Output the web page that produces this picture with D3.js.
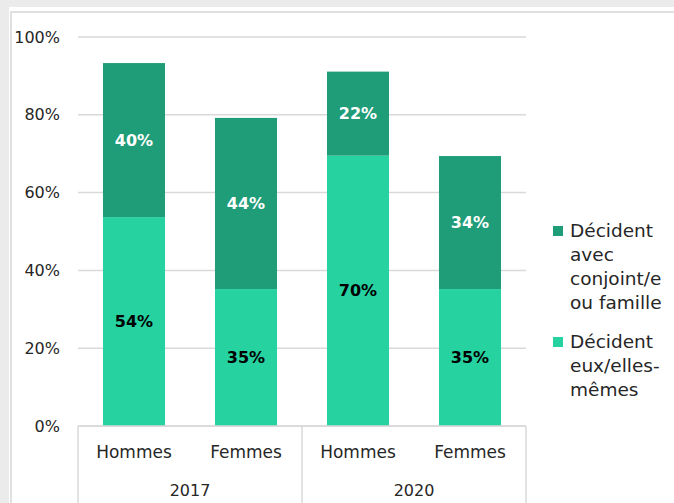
<!DOCTYPE html>
<html>
<head>
<meta charset="utf-8">
<script src="https://cdn.jsdelivr.net/npm/d3@7"></script>
<style>
  html, body { margin: 0; padding: 0; background: #ebebeb; }
  svg { display: block; }
</style>
</head>
<body>
<div class="main"></div>
<script>
// Chart data
const years = ["2017", "2020"]
const sexes = ["Hommes", "Femmes"]
const categories = ["2017|Hommes", "2017|Femmes", "2020|Hommes", "2020|Femmes"]
const seuls = [53.7, 35.2, 69.5, 35.2]      // Décident eux/elles-mêmes
const avecFamille = [39.6, 44.0, 21.6, 34.2] // Décident avec conjoint/e ou famille
const yTicks = [0, 20, 40, 60, 80, 100]
const legendLabels = [
    ["Décident", "avec", "conjoint/e", "ou famille"],
    ["Décident", "eux/elles-", "mêmes"]
]

const width = 674
const height = 503
const margin = ({top: 37, right: 148, bottom: 77, left: 78})
const axisFont = "'Century Gothic', 'URW Gothic', 'DejaVu Sans', sans-serif"
const legendFont = "Verdana, 'DejaVu Sans', sans-serif"
const darkGreen = "#1f9c78"
const lightGreen = "#25d2a0"
const gridColor = "#d9d9d9"

const svg = d3.select(".main").append("svg")
    .attr("width", width)
    .attr("height", height)

// panel
svg.append("rect")
    .attr("x", 9).attr("y", 7)
    .attr("width", width - 9).attr("height", height - 7)
    .attr("fill", "white")
svg.append("path")
    .attr("d", `M11,${height} V12 H${width}`)
    .attr("fill", "none")
    .attr("stroke", "#e0e0e0")
    .attr("stroke-width", 2)

const xScale = d3.scaleBand()
    .domain(categories)
    .range([margin.left, width - margin.right])
    .paddingInner(0.446)
    .paddingOuter(0.223)

const yScale = d3.scaleLinear()
    .domain([0, 100])
    .range([height - margin.bottom, margin.top])

// gridlines
svg.append("g")
    .selectAll("line")
    .data(yTicks)
    .join("line")
        .attr("x1", margin.left)
        .attr("x2", width - margin.right)
        .attr("y1", d => yScale(d))
        .attr("y2", d => yScale(d))
        .attr("stroke", gridColor)
        .attr("stroke-width", 1.5)

// y axis labels
svg.append("g")
    .selectAll("text")
    .data(yTicks)
    .join("text")
        .attr("x", 60)
        .attr("y", d => yScale(d))
        .attr("dy", "0.35em")
        .attr("text-anchor", "end")
        .attr("font-family", axisFont)
        .attr("font-size", 16)
        .attr("fill", "#262626")
        .text(d => d + "%")

// stacked bars
const stacked = categories.map((c, i) => ({cat: c, seul: seuls[i], fam: avecFamille[i]}))

const bars = svg.append("g")
    .selectAll("g")
    .data(stacked)
    .join("g")

bars.append("rect")
    .attr("x", d => xScale(d.cat))
    .attr("width", xScale.bandwidth())
    .attr("y", d => yScale(d.seul))
    .attr("height", d => yScale(0) - yScale(d.seul))
    .attr("fill", lightGreen)

bars.append("rect")
    .attr("x", d => xScale(d.cat))
    .attr("width", xScale.bandwidth())
    .attr("y", d => yScale(d.seul + d.fam))
    .attr("height", d => yScale(d.seul) - yScale(d.seul + d.fam))
    .attr("fill", darkGreen)

bars.append("text")
    .attr("x", d => xScale(d.cat) + xScale.bandwidth() / 2)
    .attr("y", d => yScale(d.seul / 2))
    .attr("dy", "0.35em")
    .attr("text-anchor", "middle")
    .attr("font-family", axisFont)
    .attr("font-weight", "bold")
    .attr("font-size", 16)
    .attr("fill", "black")
    .text(d => Math.round(d.seul) + "%")

bars.append("text")
    .attr("x", d => xScale(d.cat) + xScale.bandwidth() / 2)
    .attr("y", d => yScale(d.seul + d.fam / 2))
    .attr("dy", "0.35em")
    .attr("text-anchor", "middle")
    .attr("font-family", axisFont)
    .attr("font-weight", "bold")
    .attr("font-size", 16)
    .attr("fill", "white")
    .text(d => Math.round(d.fam) + "%")

// x axis: two levels
const x0 = margin.left
const x1 = width - margin.right
const base = yScale(0)
const step = xScale.step()

svg.append("line")
    .attr("x1", x0).attr("x2", x1)
    .attr("y1", base).attr("y2", base)
    .attr("stroke", gridColor)
    .attr("stroke-width", 1.5)

svg.append("g")
    .selectAll("line")
    .data([0, 1, 2])
    .join("line")
        .attr("x1", i => x0 + i * step * 2)
        .attr("x2", i => x0 + i * step * 2)
        .attr("y1", base)
        .attr("y2", height)
        .attr("stroke", gridColor)
        .attr("stroke-width", 1.5)

svg.append("g")
    .selectAll("text")
    .data(categories)
    .join("text")
        .attr("x", d => xScale(d) + xScale.bandwidth() / 2)
        .attr("y", base + 26)
        .attr("dy", "0.35em")
        .attr("text-anchor", "middle")
        .attr("font-family", axisFont)
        .attr("font-size", 17)
        .attr("fill", "#262626")
        .text(d => d.split("|")[1])

svg.append("g")
    .selectAll("text")
    .data(years)
    .join("text")
        .attr("x", (d, i) => x0 + step * (2 * i + 1))
        .attr("y", base + 64)
        .attr("dy", "0.35em")
        .attr("text-anchor", "middle")
        .attr("font-family", axisFont)
        .attr("font-size", 16)
        .attr("fill", "#262626")
        .text(d => d)

// legend
const legendColors = [darkGreen, lightGreen]
const legendTop = [231, 342]
const legend = svg.append("g")
    .selectAll("g")
    .data(legendLabels)
    .join("g")
        .attr("transform", (d, i) => `translate(553, ${legendTop[i]})`)

legend.append("rect")
    .attr("x", 0).attr("y", -5)
    .attr("width", 10).attr("height", 10)
    .attr("fill", (d, i) => legendColors[i])

legend.append("text")
    .attr("font-family", legendFont)
    .attr("font-size", 18.5)
    .attr("fill", "#262626")
    .selectAll("tspan")
    .data(d => d)
    .join("tspan")
        .attr("x", 17)
        .attr("y", (d, i) => i * 24)
        .attr("dy", "0.35em")
        .text(d => d)
</script>
</body>
</html>
